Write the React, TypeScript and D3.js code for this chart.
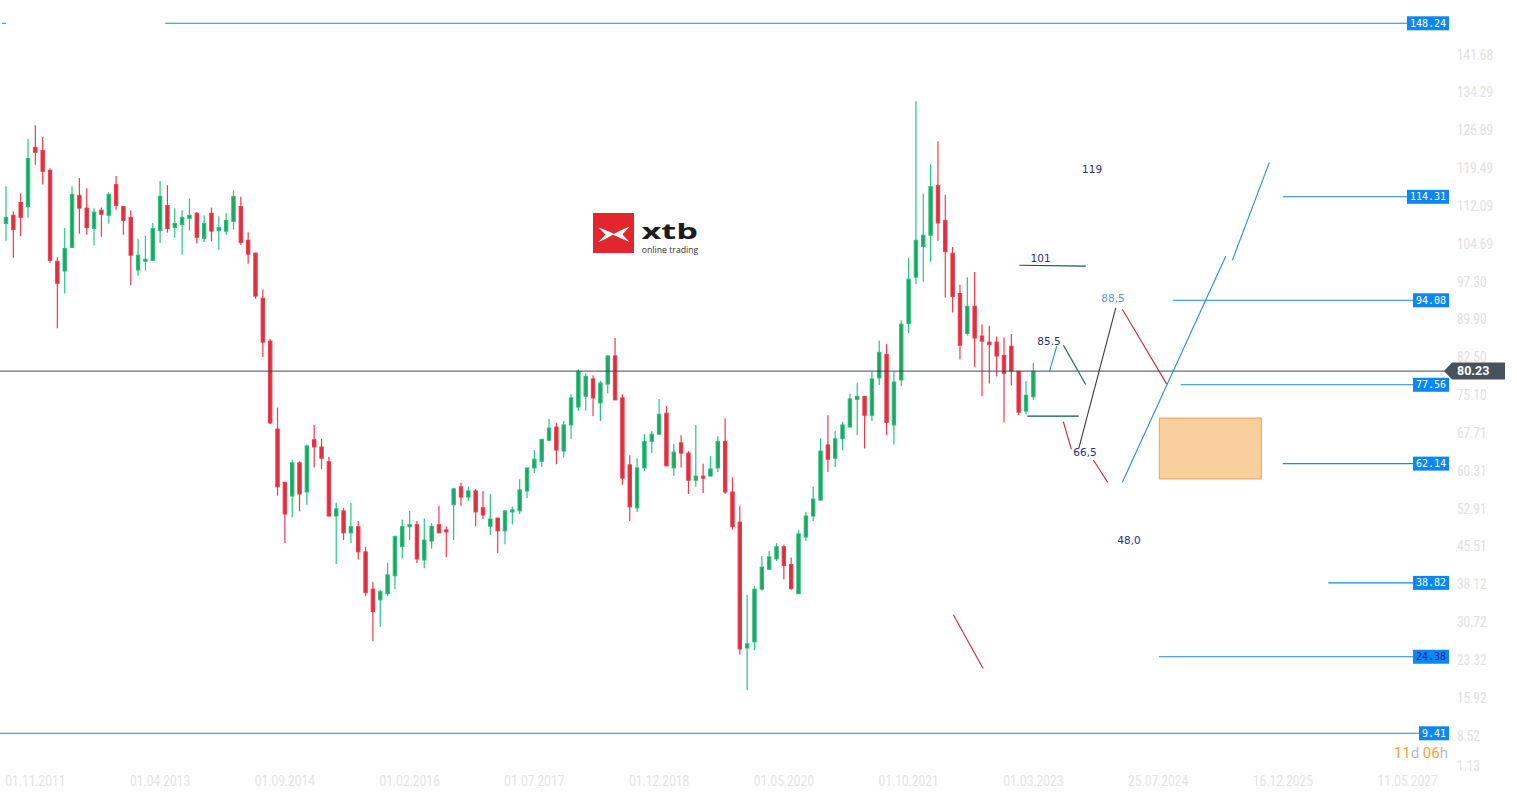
import React from 'react';
import * as d3 from 'd3';

const W = 1517;
const H = 799;

// Monthly candles, Jul 2011 .. Mar 2023 (index 0 = Jul 2011)
const opens = [
  109.1, 110.7, 113.2, 112.4, 124.0, 123.4, 119.5, 101.7, 99.8, 104.4,
  114.6, 112.1, 108.1, 111.7, 110.7, 116.7, 112.4, 110.3, 100.0, 101.7,
  101.9, 107.7, 112.6, 108.3, 108.9, 110.1, 111.1, 106.2, 111.1, 107.7,
  107.6, 109.5, 112.4, 105.8, 103.3, 94.5, 86.1, 68.9, 58.5, 55.8,
  62.3, 56.6, 66.8, 65.4, 62.5, 51.9, 52.9, 48.6, 49.8, 44.9,
  37.6, 35.5, 36.7, 40.2, 45.9, 49.8, 50.2, 43.3, 47.0, 50.2,
  49.2, 54.1, 57.6, 55.6, 56.8, 53.5, 49.9, 51.5, 49.0, 52.7,
  52.9, 56.8, 61.3, 62.6, 66.7, 69.3, 64.6, 69.7, 73.2, 75.3,
  78.7, 74.0, 77.7, 83.2, 75.0, 61.9, 53.5, 61.3, 66.5, 67.9,
  72.0, 61.3, 66.2, 64.2, 58.9, 59.7, 59.7, 61.3, 66.5, 56.6,
  50.7, 26.1, 27.3, 37.6, 41.5, 43.5, 45.9, 42.4, 36.7, 47.8,
  51.9, 55.0, 65.8, 63.2, 67.0, 69.3, 74.7, 75.3, 71.6, 78.9,
  83.5, 69.7, 78.5, 89.5, 98.6, 104.6, 106.8, 116.5, 109.7, 103.3,
  95.4, 87.6, 92.9, 87.1, 85.9, 85.9, 83.3, 85.1, 80.2, 72.4,
  75.2,
];
const highs = [
  116.4, 111.5, 115.0, 125.6, 128.3, 126.0, 119.9, 102.5, 108.2, 116.4,
  118.0, 116.0, 112.1, 112.2, 115.2, 118.4, 112.4, 111.7, 106.1, 106.7,
  109.2, 117.4, 116.6, 112.1, 111.7, 114.0, 111.3, 110.7, 112.2, 110.5,
  111.1, 115.6, 114.3, 107.4, 103.3, 96.2, 86.5, 73.1, 58.5, 62.9,
  62.6, 65.9, 69.7, 67.0, 63.5, 54.5, 53.5, 54.5, 50.9, 45.9,
  39.0, 37.5, 42.8, 48.1, 51.2, 52.9, 50.9, 51.4, 50.5, 53.9,
  49.9, 57.4, 58.4, 57.6, 57.2, 56.8, 56.2, 51.5, 52.9, 53.7,
  59.1, 61.3, 64.8, 66.9, 70.9, 70.1, 70.5, 75.7, 80.6, 79.8,
  79.4, 78.3, 83.3, 86.7, 75.7, 63.8, 63.2, 67.9, 68.5, 74.8,
  73.4, 66.0, 67.7, 64.6, 69.7, 62.1, 63.6, 67.5, 71.0, 59.5,
  53.9, 36.5, 38.2, 44.1, 45.1, 46.6, 46.3, 43.8, 49.2, 52.7,
  57.6, 67.1, 71.6, 68.5, 70.3, 75.8, 77.9, 75.3, 80.1, 86.2,
  85.5, 80.1, 90.2, 102.4, 133.0, 114.9, 120.7, 125.2, 114.7, 104.5,
  97.1, 98.6, 99.6, 89.4, 89.1, 87.0, 86.8, 87.5, 80.2, 78.3,
  81.8,
];
const lows = [
  105.7, 102.4, 106.6, 110.2, 120.6, 116.7, 101.4, 88.6, 95.4, 104.4,
  107.1, 106.9, 104.8, 106.5, 109.1, 111.8, 106.9, 97.0, 98.9, 99.9,
  101.9, 105.3, 107.3, 106.3, 103.0, 107.7, 105.2, 105.5, 105.6, 104.0,
  106.9, 107.9, 104.9, 101.2, 94.4, 83.0, 69.9, 55.9, 46.6, 51.6,
  52.8, 54.1, 61.4, 61.1, 51.8, 42.5, 47.2, 46.6, 43.4, 36.2,
  27.4, 30.2, 36.2, 37.6, 43.6, 47.2, 42.7, 41.7, 45.5, 48.6,
  43.9, 47.2, 53.9, 54.8, 49.9, 51.3, 48.2, 44.7, 46.4, 50.3,
  52.3, 55.4, 60.3, 61.5, 66.5, 62.0, 63.4, 66.9, 72.5, 72.5,
  71.4, 70.5, 75.9, 74.6, 58.0, 50.9, 52.7, 60.7, 64.2, 67.9,
  61.7, 59.7, 61.4, 56.2, 57.6, 56.4, 59.7, 60.5, 56.2, 49.2,
  24.8, 17.9, 25.7, 37.3, 41.4, 43.1, 39.5, 37.5, 36.7, 47.0,
  50.9, 55.0, 60.5, 61.5, 64.8, 69.3, 67.7, 65.1, 70.5, 77.5,
  67.7, 65.9, 77.3, 87.7, 97.2, 97.7, 101.6, 105.7, 94.6, 91.7,
  82.5, 87.2, 81.0, 75.3, 77.8, 79.2, 70.2, 77.4, 71.6, 71.8,
  74.7,
];
const closes = [
  110.3, 107.9, 110.3, 121.8, 123.0, 119.3, 101.9, 97.4, 104.2, 114.8,
  112.1, 108.3, 111.3, 110.9, 114.8, 112.6, 109.7, 102.9, 102.9, 102.1,
  108.1, 114.4, 108.1, 109.1, 110.3, 110.7, 106.4, 109.1, 107.6, 108.3,
  109.7, 114.4, 105.4, 103.1, 94.9, 85.9, 70.1, 57.6, 52.3, 62.3,
  56.2, 65.6, 65.4, 63.2, 51.9, 53.3, 48.6, 49.8, 44.9, 36.9,
  33.2, 37.1, 40.4, 47.9, 49.8, 50.2, 43.5, 47.2, 49.9, 48.6,
  48.8, 57.2, 55.6, 56.8, 52.7, 52.1, 51.3, 49.0, 52.9, 53.1,
  57.0, 61.3, 63.0, 66.9, 69.1, 64.8, 69.7, 75.0, 80.2, 79.2,
  75.0, 77.9, 83.2, 74.6, 59.3, 53.7, 61.3, 66.5, 67.9, 71.8,
  61.7, 64.4, 64.2, 58.9, 59.7, 59.3, 61.1, 66.5, 56.6, 49.8,
  25.9, 26.9, 37.6, 41.9, 43.9, 45.9, 42.2, 37.7, 48.4, 51.9,
  55.2, 64.6, 63.0, 67.0, 69.7, 74.8, 75.3, 71.6, 78.7, 83.9,
  70.2, 78.1, 89.4, 98.2, 105.8, 106.8, 116.3, 109.2, 103.6, 94.8,
  85.3, 92.9, 86.7, 86.1, 85.4, 83.2, 79.8, 80.2, 72.2, 75.5,
  80.23,
];

// Time axis (month index from Jul 2011)
const dateLabels = [
  '01.11.2011', '01.04.2013', '01.09.2014', '01.02.2016', '01.07.2017', '01.12.2018',
  '01.05.2020', '01.10.2021', '01.03.2023', '25.07.2024', '16.12.2025', '11.05.2027',
];
const dateLabelIndex = [4, 21, 38, 55, 72, 89, 106, 123, 140, 157, 174, 191];

// Price axis ticks
const yTicks = [
  141.68, 134.29, 126.89, 119.49, 112.09, 104.69, 97.3, 89.9, 82.5, 75.1,
  67.71, 60.31, 52.91, 45.51, 38.12, 30.72, 23.32, 15.92, 8.52, 1.13,
];

// Horizontal levels with their labels
const levelValues = [148.24, 114.31, 94.08, 77.56, 62.14, 38.82, 24.38, 9.41];
const levelStart = [21.7, 174.0, 159.0, 160.1, 174.0, 180.2, 157.1, -1];
const currentPrice = 80.23;
const countdown = ['11', 'd', ' 06', 'h'];

// Drawn wave annotation segments: [i1, v1, i2, v2]
const blueSegments = [
  [142.18, 80.09, 143.19, 85.11],
  [152.13, 58.48, 166.22, 102.69],
  [167.12, 101.91, 172.16, 121.04],
];
const redSegments = [
  [144.09, 70.33, 145.18, 64.92],
  [148.18, 62.85, 150.14, 58.48],
  [152.13, 92.34, 158.18, 77.69],
  [129.1, 32.61, 133.15, 22.1],
];
const greenSegments = [
  [144.09, 85.31, 147.14, 77.61],
  [139.18, 71.44, 146.19, 71.44],
  [138.09, 100.93, 147.14, 100.74],
];
const blackSegments = [[146.19, 65.12, 151.23, 92.59]];
const zoneBox = [157.17, 71.05, 171.07, 59.14];

const waveLabels = ['119', '101', '88,5', '85.5', '66,5', '48,0'];
const waveLabelIndex = [148.0, 140.98, 150.86, 142.14, 147.04, 153.04];
const waveLabelValue = [119.6, 102.1, 94.29, 86.01, 64.22, 46.96];

export default function App() {
  React.useEffect(() => {
    document.body.style.margin = '0';
  }, []);

  const x = d3.scaleLinear().domain([0, 191]).range([6, 1407.6]);
  const y = d3.scaleLinear().domain([9.41, 148.24]).range([733.3, 23.3]);

  const upWick = '#26c582';
  const upFill = '#20a464';
  const upStroke = '#25c07c';
  const dnWick = '#f23a4c';
  const dnFill = '#dc2f40';
  const dnStroke = '#ef3a4c';
  const levelBlue = '#1a86e6';
  const boxBlue = '#0b87f5';
  const axisGray = '#e0e0e0';

  const bw = 3.4;

  const seg = (s: number[], color: string, key: string, w = 1.2) => (
    <line key={key} x1={x(s[0])} y1={y(s[1])} x2={x(s[2])} y2={y(s[3])} stroke={color} strokeWidth={w} />
  );

  const tickLen = (t: string, dw: number, pw: number) => {
    let n = 0;
    for (const ch of t) n += ch === '.' ? pw : dw;
    return n;
  };

  return (
    <svg
      width={W}
      height={H}
      viewBox={`0 0 ${W} ${H}`}
      style={{ position: 'absolute', left: 0, top: 0, background: '#ffffff', display: 'block' }}
    >
      <rect x={0} y={0} width={W} height={H} fill="#ffffff" />

      {/* logo */}
      <g>
        <rect x={593} y={213} width={41} height={40} fill="#e3262d" />
        <path d="M598.5 227.5 Q609 231 614 234 Q609 237.5 598.5 242 L605.5 234.5 Z" fill="#ffffff" />
        <path d="M629.5 226.5 Q620 230.5 612.5 234.5 Q620 238 629.5 242 L622.5 234.5 Z" fill="#ffffff" />
        <text x={641.5} y={238.5} fontFamily="'Open Sans', Arial, sans-serif" fontWeight={700} fontSize={21} fill="#1c1c1c" textLength={56.5} lengthAdjust="spacingAndGlyphs">xtb</text>
        <text x={641.8} y={252.5} fontFamily="'Open Sans', Arial, sans-serif" fontSize={8.8} fill="#333333" textLength={56.5} lengthAdjust="spacingAndGlyphs">online trading</text>
      </g>

      {/* candles */}
      <g>
        {opens.map((o, i) => {
          const c = closes[i];
          const up = c >= o;
          const cx = x(i);
          const top = y(Math.max(o, c));
          const bot = y(Math.min(o, c));
          return (
            <g key={i}>
              <line x1={cx} x2={cx} y1={y(highs[i])} y2={y(lows[i])} stroke={up ? upWick : dnWick} strokeWidth={1.2} />
              <rect
                x={cx - bw / 2}
                y={top}
                width={bw}
                height={Math.max(bot - top, 1)}
                fill={up ? upFill : dnFill}
                stroke={up ? upStroke : dnStroke}
                strokeWidth={1}
              />
            </g>
          );
        })}
      </g>

      {/* current price line */}
      <line x1={0} x2={1446} y1={y(currentPrice)} y2={y(currentPrice)} stroke="#3b4b57" strokeWidth={1} />

      {/* levels */}
      {levelValues.map((v, k) => {
        const label = v.toFixed(2);
        const bwid = label.length * 6 + 6;
        const bx = 1449 - bwid;
        const ly = y(v);
        return (
          <g key={'lv' + k}>
            <line x1={x(levelStart[k])} x2={bx} y1={ly} y2={ly} stroke={levelBlue} strokeWidth={1.1} />
            <rect x={bx} y={ly - 7} width={bwid} height={14} fill={boxBlue} />
            <text
              x={bx + bwid / 2}
              y={ly + 0.5}
              textAnchor="middle"
              dominantBaseline="middle"
              fontFamily="'DejaVu Sans Mono', monospace"
              fontSize={10}
              fill={v === 24.38 ? '#22229a' : '#ffffff'}
            >
              {label}
            </text>
          </g>
        );
      })}
      {/* tiny dash at top left */}
      <line x1={2} x2={6} y1={y(levelValues[0])} y2={y(levelValues[0])} stroke={levelBlue} strokeWidth={1} />

      {/* annotations */}
      <rect
        x={x(zoneBox[0])}
        y={y(zoneBox[1])}
        width={x(zoneBox[2]) - x(zoneBox[0])}
        height={y(zoneBox[3]) - y(zoneBox[1])}
        fill="#f9cf9e"
        stroke="#f4a24c"
        strokeWidth={1}
      />
      {blueSegments.map((s, k) => seg(s, '#2a8bd8', 'b' + k, 1.1))}
      {redSegments.map((s, k) => seg(s, '#c42d2d', 'r' + k, 1.1))}
      {greenSegments.map((s, k) => seg(s, k === 0 ? '#2a6f56' : '#0e5a3d', 'g' + k, 1.2))}
      {blackSegments.map((s, k) => seg(s, '#3a3a3a', 'k' + k, 1.1))}
      {waveLabels.map((t, k) => (
        <text
          key={'wl' + k}
          x={x(waveLabelIndex[k])}
          y={y(waveLabelValue[k])}
          textAnchor="middle"
          dominantBaseline="middle"
          fontFamily="'DejaVu Sans', sans-serif"
          fontSize={10.5}
          fill={t === '88,5' ? '#3f9df0' : '#2d2d7d'}
        >
          {t}
        </text>
      ))}

      {/* current price label */}
      <path
        d={`M1444 ${y(currentPrice)} L1452 ${y(currentPrice) - 8.5} L1505 ${y(currentPrice) - 8.5} L1505 ${y(currentPrice) + 8.5} L1452 ${y(currentPrice) + 8.5} Z`}
        fill="#46535d"
      />
      <text x={1457} y={y(currentPrice) + 0.5} dominantBaseline="middle" fontFamily="Roboto, sans-serif" fontWeight={700} fontSize={12.5} fill="#ffffff">
        {currentPrice.toFixed(2)}
      </text>

      {/* price axis ticks */}
      {yTicks.map((v, k) => {
        const t = v.toFixed(2);
        return (
          <text
            key={'yt' + k}
            x={1457}
            y={Math.min(y(v), 768) - 1}
            dominantBaseline="middle"
            fontFamily="Roboto, sans-serif"
            fontSize={14}
            fill={axisGray}
            textLength={tickLen(t, 6.5, 3.5)}
            lengthAdjust="spacingAndGlyphs"
          >
            {t}
          </text>
        );
      })}

      {/* date axis */}
      {dateLabels.map((t, k) => (
        <text
          key={'dt' + k}
          x={x(dateLabelIndex[k])}
          y={782}
          textAnchor="middle"
          dominantBaseline="middle"
          fontFamily="Roboto, sans-serif"
          fontSize={15}
          fill="#e3e3e3"
          textLength={60}
          lengthAdjust="spacingAndGlyphs"
        >
          {t}
        </text>
      ))}

      {/* countdown */}
      <text x={1448} y={758} textAnchor="end" fontFamily="Roboto, sans-serif" fontSize={15}>
        {countdown.map((p, k) => (
          <tspan key={'cd' + k} fill={k % 2 === 0 ? '#f5a23a' : '#b9bdc3'}>{p}</tspan>
        ))}
      </text>
    </svg>
  );
}
